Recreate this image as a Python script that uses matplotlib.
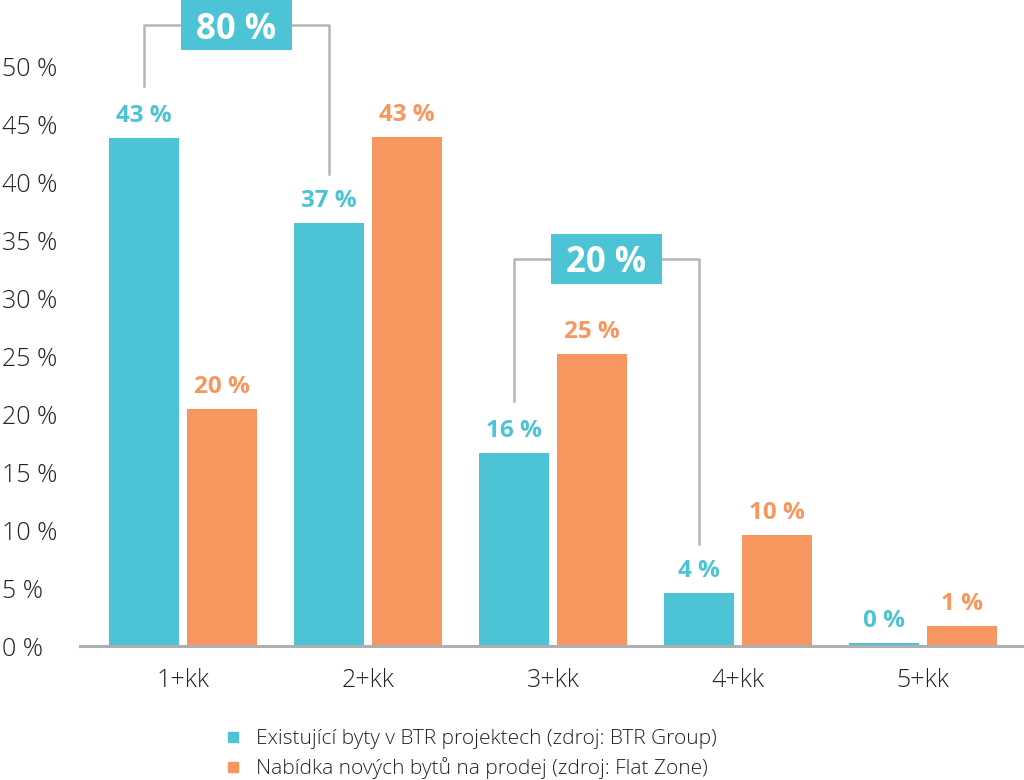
import matplotlib.pyplot as plt
from matplotlib.lines import Line2D
from matplotlib.patches import Rectangle
import numpy as np

plt.rcParams['font.family'] = ['Open Sans', 'DejaVu Sans']

# data
categories = ['1+kk', '2+kk', '3+kk', '4+kk', '5+kk']
btr = [43.8, 36.5, 16.6, 4.6, 0.25]
nabidka = [20.4, 43.9, 25.2, 9.6, 1.7]
btr_labels = ['43 %', '37 %', '16 %', '4 %', '0 %']
nabidka_labels = ['20 %', '43 %', '25 %', '10 %', '1 %']
yticks = [0, 5, 10, 15, 20, 25, 30, 35, 40, 45, 50]
legend_labels = ['Existující byty v BTR projektech (zdroj: BTR Group)',
                 'Nabídka nových bytů na prodej (zdroj: Flat Zone)']

# souhrnné závorky: (od skupiny, do skupiny, výška, text)
brackets = [(0, 1, 53.5, '80 %'), (2, 3, 33.4, '20 %')]

teal = '#4CC4D5'
orange = '#F7975F'
grey = '#B3B5B8'
txt = '#222222'

fig = plt.figure(figsize=(10.24, 7.8), dpi=100)
ax = fig.add_axes([80 / 1024, 134 / 780, 944 / 1024, 646 / 780])

x = np.arange(len(categories))
w = 0.378
off = 0.211
ax.bar(x - off, btr, w, color=teal)
ax.bar(x + off, nabidka, w, color=orange)

for i in range(len(categories)):
    ax.annotate(btr_labels[i], (x[i] - off, btr[i]), xytext=(0, 11.5),
                textcoords='offset points', ha='center', va='baseline',
                fontsize=17.5, fontweight='bold', color=teal)
    ax.annotate(nabidka_labels[i], (x[i] + off, nabidka[i]), xytext=(0, 11.5),
                textcoords='offset points', ha='center', va='baseline',
                fontsize=17.5, fontweight='bold', color=orange)

box_w, box_h = 0.605, 4.3
for a, b, level, label in brackets:
    xa = x[a] - off
    xb = x[b] - off
    ya = btr[a] + 4.5
    yb = btr[b] + 4.2
    ax.plot([xa, xa, xb, xb], [ya, level, level, yb], color=grey,
            lw=1.8, clip_on=False, zorder=1)
    xm = (xa + xb) / 2
    ax.add_patch(Rectangle((xm - box_w / 2, level - box_h / 2), box_w, box_h,
                           fc=teal, ec='none', clip_on=False, zorder=2))
    ax.text(xm, level, label, ha='center', va='center_baseline',
            fontsize=25, fontweight='bold', color='white', zorder=3,
            clip_on=False)

ax.set_xlim(-0.557, 4.546)
ax.set_ylim(0, 55.69)
ax.set_xticks(x)
ax.set_xticklabels(categories, fontsize=18, fontweight='light', color=txt)
ax.set_yticks(yticks)
ax.set_yticklabels([f'{v} %' for v in yticks], fontsize=18,
                   fontweight='light', color=txt)
for lab in ax.get_yticklabels():
    lab.set_horizontalalignment('left')
ax.tick_params(axis='y', length=0, pad=56)
ax.tick_params(axis='x', length=0, pad=16)

for s in ['top', 'right', 'left']:
    ax.spines[s].set_visible(False)
ax.spines['bottom'].set_color('#AEAFB2')
ax.spines['bottom'].set_linewidth(2.2)

handles = [Line2D([], [], ls='none', marker='s', ms=7.5, color=teal),
           Line2D([], [], ls='none', marker='s', ms=7.5, color=orange)]
leg = fig.legend(handles, legend_labels, loc='upper left',
                 bbox_to_anchor=(216 / 1024, 1 - 721 / 780), frameon=False,
                 fontsize=15, handlelength=0.8, handletextpad=0.7,
                 labelspacing=0.38, borderaxespad=0)
for t in leg.get_texts():
    t.set_fontweight('light')
    t.set_color(txt)

fig.savefig('out.png', dpi=100)
